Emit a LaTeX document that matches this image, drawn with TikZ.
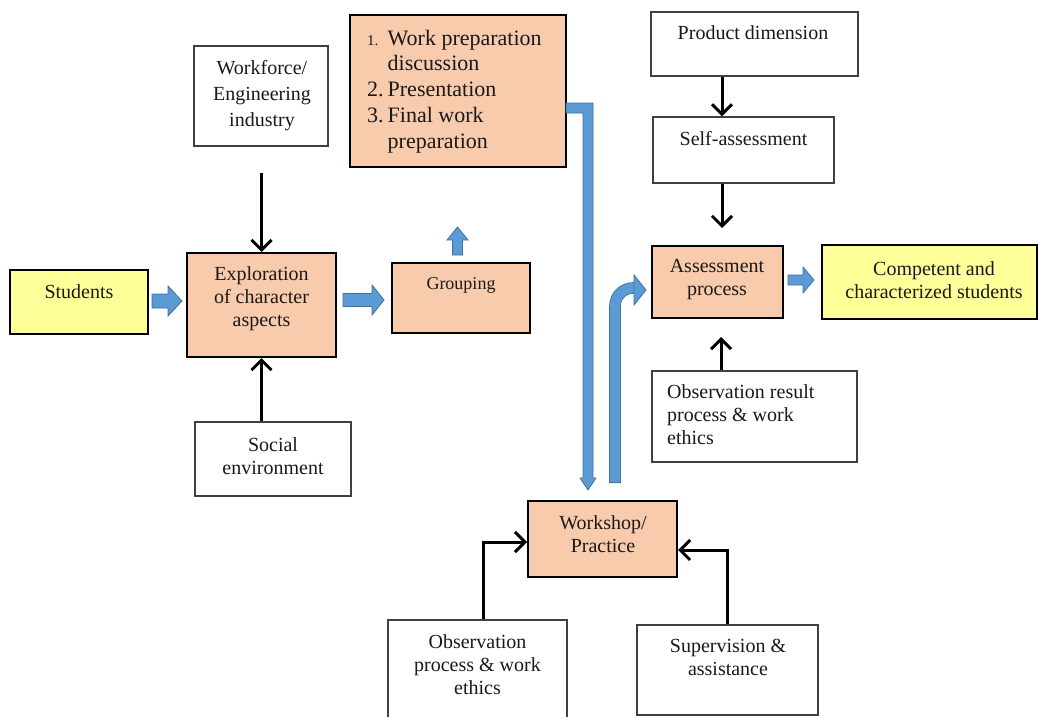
\documentclass[tikz,border=0pt]{standalone}
\usepackage{fontspec}
\setmainfont{Liberation Serif}
\usetikzlibrary{arrows.meta,calc}
\definecolor{salmon}{HTML}{F8CBAD}
\definecolor{lyellow}{HTML}{FFFF99}
\definecolor{bfill}{HTML}{5B9BD5}
\definecolor{bedge}{HTML}{41719C}
\begin{document}
\begin{tikzpicture}[x=1pt,y=-1pt,
  whitebox/.style={draw=black!75, line width=1.2pt, fill=white, inner sep=0pt},
  salbox/.style={draw=black, line width=2pt, fill=salmon, inner sep=0pt},
  yelbox/.style={draw=black, line width=2.8pt, fill=lyellow, inner sep=0pt},
  txt/.style={font=\fontsize{20}{23}\selectfont, align=center, inner sep=0pt, text=black!90},
  conn/.style={draw=black, line width=3pt, -{Straight Barb[length=10pt,width=20pt]}},
  barrow/.style={fill=bfill, draw=bedge, line width=0.8pt, line join=miter}
]
\useasboundingbox (0,0) rectangle (1039,717);

% boxes
\node[yelbox, minimum width=138pt, minimum height=64pt] (stu) at (79,302) {};
\node[txt] (stu-t) at (79,292) {Students};

\node[salbox, minimum width=149pt, minimum height=104pt] (expl) at (261.5,305) {};
\node[txt] (expl-t) at (261.5,299) {Exploration\\of character\\aspects};

\node[whitebox, minimum width=156pt, minimum height=74pt] (soc) at (273,459) {};
\node[txt] (soc-t) at (273,456) {Social\\environment};

\node[whitebox, minimum width=134pt, minimum height=100pt] (wf) at (261,96) {};
\node[txt, font=\fontsize{20}{26}\selectfont] (wf-t) at (262,96) {Workforce/\\Engineering\\industry};

\node[salbox, minimum width=216pt, minimum height=152pt] (prep) at (458,91) {};
\node[inner sep=0pt, anchor=west, text=black!90, font=\fontsize{22}{25.7}\selectfont] (prep-t) at (367,91.5)
  {\begin{tabular}{@{}l@{\hspace{4pt}}l@{}}
   {\fontsize{15}{18}\selectfont 1.} & Work preparation\\
     & discussion\\
   2. & Presentation\\
   3. & Final work\\
     & preparation
   \end{tabular}};

\node[salbox, minimum width=138pt, minimum height=70pt] (grp) at (461,298) {};
\node[txt, font=\fontsize{18}{21}\selectfont] (grp-t) at (461,285) {Grouping};

\node[salbox, minimum width=131pt, minimum height=72pt] (asm) at (717.5,282) {};
\node[txt] (asm-t) at (717,280) {Assessment\\process};

\node[yelbox, minimum width=215pt, minimum height=74pt] (comp) at (929.5,282) {};
\node[txt] (comp-t) at (934,280) {Competent and\\characterized students};

\node[whitebox, minimum width=207pt, minimum height=64pt] (prod) at (754.5,44) {};
\node[txt] (prod-t) at (753,33) {Product dimension};

\node[whitebox, minimum width=181pt, minimum height=66pt] (self) at (743.5,150) {};
\node[txt] (self-t) at (743.5,139) {Self-assessment};

\node[whitebox, minimum width=205pt, minimum height=91pt] (obsr) at (754.5,416.5) {};
\node[txt, align=left, anchor=west] (obsr-t) at (667,415) {Observation result\\process \& work\\ethics};

\node[salbox, minimum width=149pt, minimum height=76pt] (work) at (602.5,539) {};
\node[txt] (work-t) at (603,534) {Workshop/\\Practice};

\node[whitebox, minimum width=179pt, minimum height=104pt] (obsp) at (477.5,672) {};
\node[txt] (obsp-t) at (477.5,665) {Observation\\process \& work\\ethics};

\node[whitebox, minimum width=181pt, minimum height=90pt] (sup) at (727.5,670) {};
\node[txt] (sup-t) at (728,657) {Supervision \&\\assistance};

% black connectors
\coordinate (wfS) at (0,173);
\draw[conn] (expl.north |- wfS) -- (expl.north);
\draw[conn] (expl.south |- soc.north) -- (expl.south);
\coordinate (rx) at (722,0);
\draw[conn] (rx |- prod.south) -- (rx |- self.north);
\coordinate (sa) at (722,228);
\draw[conn] (rx |- self.south) -- (sa);
\coordinate (oa) at (721,337);
\draw[conn] (oa |- obsr.north) -- (oa);
\coordinate (ow) at (483,542);
\draw[conn] (ow |- obsp.north) |- (ow -| work.west);
\coordinate (sw) at (727,550);
\draw[conn] (sw |- sup.north) |- (sw -| work.east);

% blue block arrows
\filldraw[barrow] (152,294) -- (168,294) -- (168,286) -- (182,301) -- (168,316) -- (168,308) -- (152,308) -- cycle;
\filldraw[barrow] (343,293.5) -- (372,293.5) -- (372,285) -- (384,300) -- (372,315) -- (372,306.5) -- (343,306.5) -- cycle;
\filldraw[barrow] (788,275) -- (803,275) -- (803,267) -- (814,280) -- (803,293) -- (803,285) -- (788,285) -- cycle;
\filldraw[barrow] (452.5,255) -- (452.5,240) -- (447,240) -- (457.5,227) -- (468,240) -- (462.5,240) -- (462.5,255) -- cycle;
% bent arrow from preparation box down to workshop
\filldraw[barrow] (566,103) -- (593,103) -- (593,478) -- (596,478) -- (588,490) -- (580,478) -- (583,478) -- (583,113) -- (566,113) -- cycle;
% curved arrow from workshop up to assessment
\draw[bedge, line width=11.6pt, rounded corners=18pt] (615,483) -- (615,288) -- (636,288);
\draw[bfill, line width=10pt, rounded corners=18pt] (615,482.2) -- (615,288) -- (636.5,288);
\filldraw[barrow] (634,275) -- (646,290) -- (634,305) -- cycle;
\end{tikzpicture}
\end{document}
